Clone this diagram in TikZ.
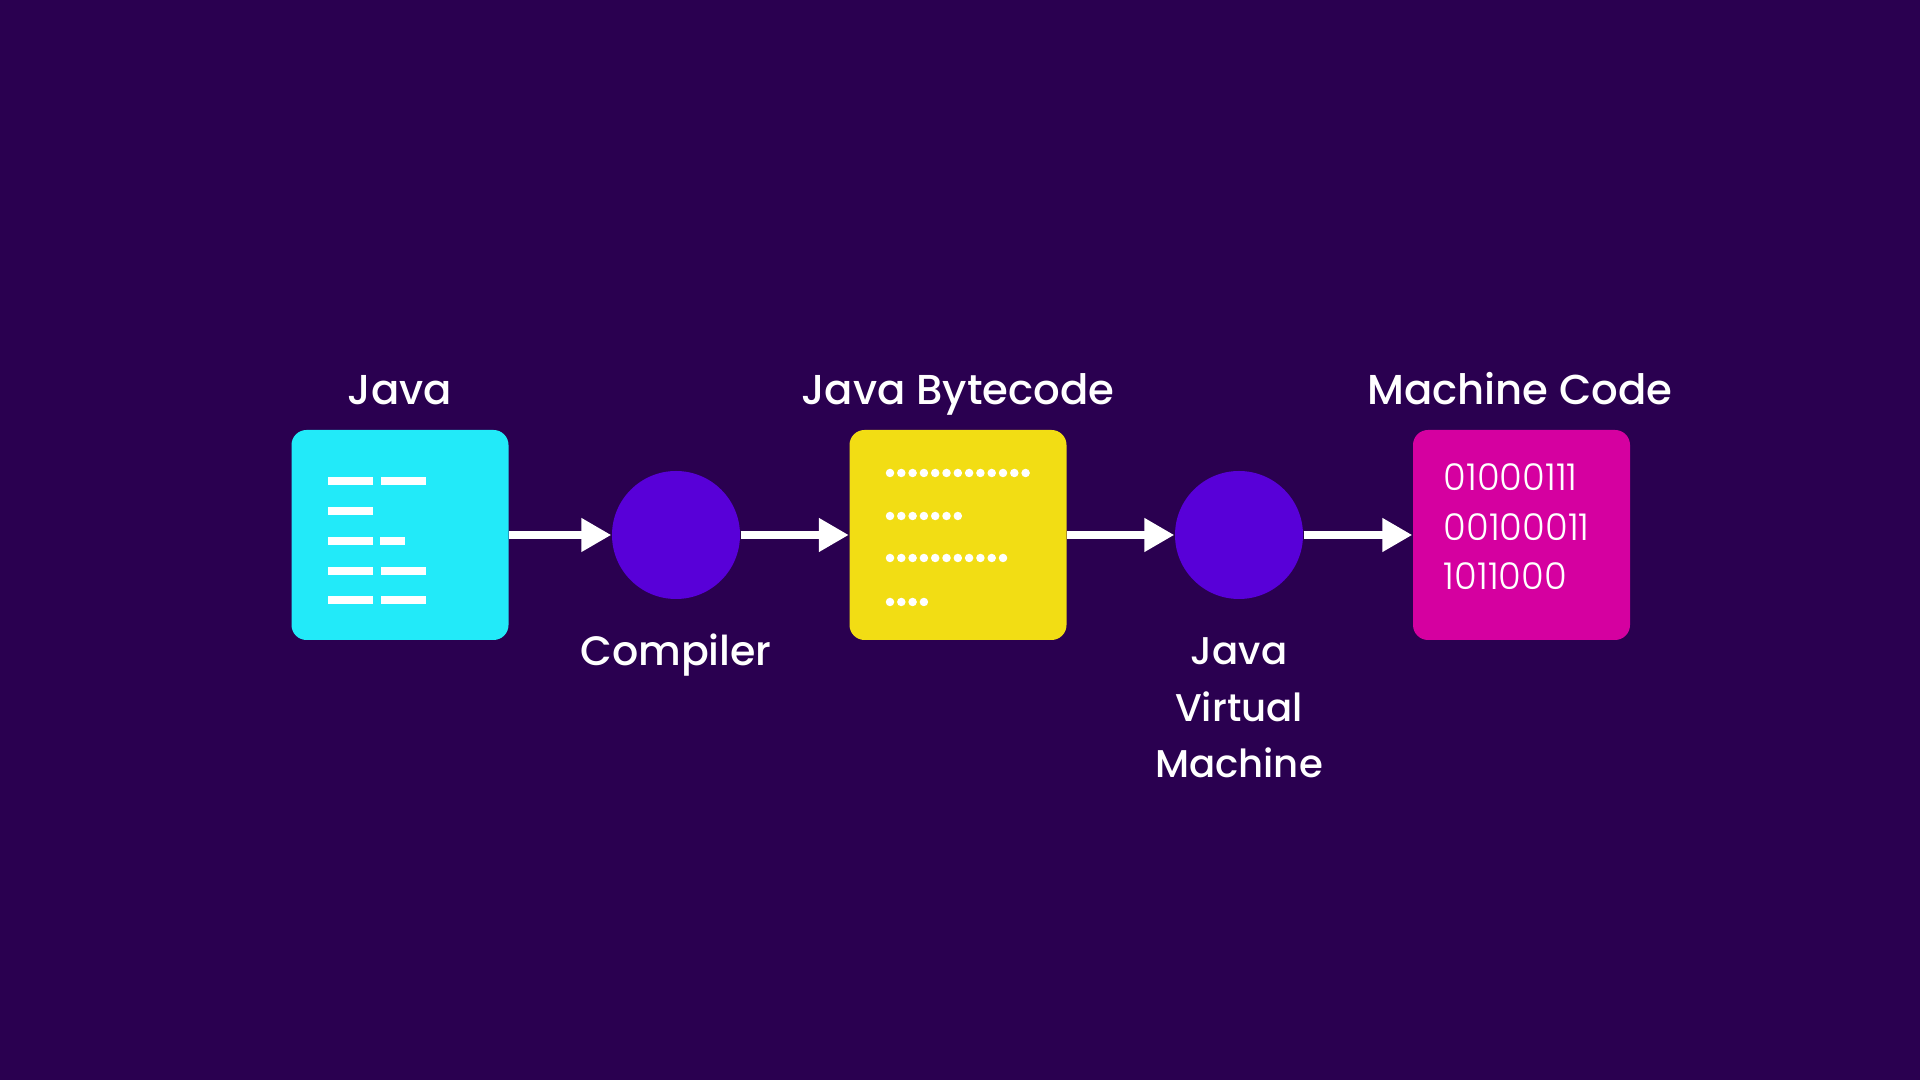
\documentclass[tikz,border=0pt]{standalone}
\usepackage{fontspec}
\setmainfont{Poppins}
\newfontfamily\labelfont{Poppins Medium}
\newfontfamily\bitfont{Poppins Light}
\usetikzlibrary{arrows.meta}

\definecolor{bgpurple}{RGB}{42,0,80}
\definecolor{javacyan}{RGB}{34,234,249}
\definecolor{stepviolet}{RGB}{88,0,216}
\definecolor{byteyellow}{RGB}{242,221,20}
\definecolor{codemagenta}{RGB}{213,0,160}

\tikzset{
  codebox/.style={rounded corners=0.15cm,minimum width=2.17cm,minimum height=2.10cm,inner sep=0pt},
  stepdot/.style={circle,fill=stepviolet,minimum size=1.28cm,inner sep=0pt},
  flow/.style={white,line width=0.08cm,-{Triangle[length=0.3cm,width=0.32cm]}},
  title/.style={white,anchor=base,font=\labelfont\fontsize{11.9}{14}\selectfont},
  caption/.style={white,anchor=base,align=center,font=\labelfont\fontsize{11.7}{15.9}\selectfont},
  codeline/.style={white,line width=0.08cm},
  bytedots/.style={white,line width=0.085cm,line cap=round,dash pattern=on 0pt off 0.113cm}
}

\begin{document}
\begin{tikzpicture}

% Background
\fill[bgpurple](0,0) rectangle (19.2,10.8);

% Boxes and steps
\node[codebox,fill=javacyan] (java) at (4.00,5.45) {};
\node[stepdot] (compiler) at (6.76,5.45) {};
\node[codebox,fill=byteyellow] (bytecode) at (9.58,5.45) {};
\node[stepdot] (jvm) at (12.39,5.45) {};
\node[codebox,fill=codemagenta] (machine) at (15.215,5.45) {};

% Arrows
\draw[flow](java)--(compiler);
\draw[flow](compiler)--(bytecode);
\draw[flow](bytecode)--(jvm);
\draw[flow](jvm)--(machine);

% Titles
\node[title] (javatitle) at (4.00,6.75) {Java};
\node[title] (bytetitle) at (9.58,6.75) {Java Bytecode};
\node[title] (machinetitle) at (15.20,6.75) {Machine Code};

% Captions (base = last line)
\node[caption] (compilerlabel) at (6.76,4.14) {Compiler};
\node[caption,font=\labelfont\fontsize{11.0}{16.2}\selectfont] (jvmlabel) at (12.39,3.02) {Java\\Virtual\\Machine};

% Java source lines
\draw[codeline](3.28,5.99)--++(0.45,0);
\draw[codeline](3.81,5.99)--++(0.45,0);
\draw[codeline](3.28,5.69)--++(0.45,0);
\draw[codeline](3.28,5.39)--++(0.45,0);
\draw[codeline](3.80,5.39)--++(0.25,0);
\draw[codeline](3.28,5.09)--++(0.45,0);
\draw[codeline](3.81,5.09)--++(0.45,0);
\draw[codeline](3.28,4.80)--++(0.45,0);
\draw[codeline](3.81,4.80)--++(0.45,0);

% Bytecode dots
\draw[bytedots](8.90,6.07)--++(1.366,0);
\draw[bytedots](8.90,5.64)--++(0.688,0);
\draw[bytedots](8.90,5.22)--++(1.140,0);
\draw[bytedots](8.90,4.78)--++(0.349,0);

% Machine code bits
\node[white,anchor=base west,inner sep=0pt,align=left,font=\bitfont\fontsize{10.5}{14.2}\selectfont] (bits) at (14.43,4.90) {01000111\\00100011\\1011000};

\end{tikzpicture}
\end{document}
